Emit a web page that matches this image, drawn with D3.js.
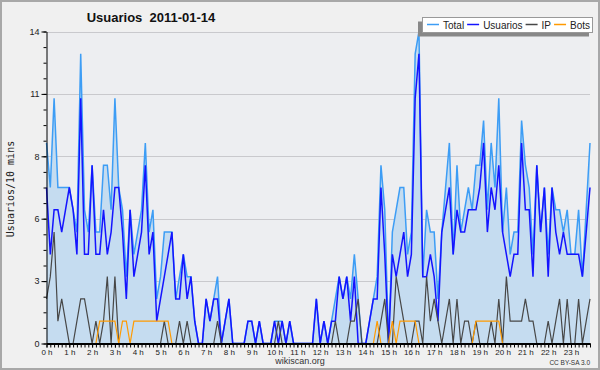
<!DOCTYPE html>
<html>
<head>
<meta charset="utf-8">
<script src="https://cdn.jsdelivr.net/npm/d3@7"></script>
<style>
  body { margin: 0; background: #f0f0f0; }
  svg { display: block; font-family: "Liberation Sans", Arial, sans-serif; }
</style>
</head>
<body>
<div id="chart"></div>
<script>
// 10 minute slots, 0 h .. 23 h 50
const hourLabels = ["0 h","1 h","2 h","3 h","4 h","5 h","6 h","7 h","8 h","9 h","10 h","11 h",
  "12 h","13 h","14 h","15 h","16 h","17 h","18 h","19 h","20 h","21 h","22 h","23 h"];

const total = [
  9,7,11,7,7,7,7,6,5,13, 6,5,8,5,5,8,8,6,11,7,
  6,3,6,4,5,6,9,5,6,2, 3,5,5,5,2,3,4,3,3,1,
  0,0,2,1,2,3,0,1,2,0, 0,0,0,1,1,0,1,0,0,0,
  1,1,1,0,1,0,0,0,0,0, 0,2,0,1,0,1,2,3,2,3,
  2,4,2,0,0,1,2,3,8,6, 0,5,6,7,7,4,5,13,14,3,
  6,5,5,2,5,7,9,4,8,5, 6,7,6,8,8,10,6,9,7,11,
  5,7,4,5,5,10,8,7,4,8, 5,7,4,7,6,6,5,6,4,4,
  6,3,6,9];

const usuarios = [
  7,4,6,6,5,6,7,6,4,11, 4,4,8,4,4,6,4,5,7,7,
  5,2,6,3,4,5,8,4,5,1, 2,3,4,5,2,2,4,2,3,1,
  0,0,2,1,2,2,0,1,2,0, 0,0,0,1,1,0,1,0,0,0,
  1,0,1,0,1,0,0,0,0,0, 0,2,0,1,0,1,1,3,2,3,
  1,3,0,0,0,1,2,2,7,4, 0,4,3,4,5,3,4,11,13,3,
  3,4,3,1,5,6,7,4,6,5, 5,6,6,6,7,9,5,7,6,8,
  5,4,3,4,4,9,6,6,3,8, 5,7,3,7,5,4,5,4,4,4,
  4,3,5,7];

const ip = [
  2,3,5,1,2,1,0,0,1,2, 2,1,0,1,0,1,3,0,3,0,
  0,0,0,0,0,0,0,0,0,0, 0,1,0,0,0,1,0,1,0,0,
  0,0,0,0,0,1,0,0,0,0, 0,0,0,0,0,0,0,0,0,0,
  0,1,0,0,0,0,0,0,0,0, 0,0,0,0,0,0,1,0,0,0,
  1,1,2,0,0,0,0,0,1,2, 0,0,3,2,1,0,0,1,1,0,
  3,1,2,1,0,1,2,0,2,0, 1,1,0,1,0,0,0,1,0,2,
  0,3,1,1,1,1,2,1,1,0, 0,0,1,0,1,2,0,2,0,0,
  2,0,1,2];

const bots = [
  0,0,0,0,0,0,0,0,0,0, 0,0,0,0,1,1,1,1,1,0,
  1,1,0,1,1,1,1,1,1,1, 1,1,1,0,0,0,0,0,0,0,
  0,0,0,0,0,0,0,0,0,0, 0,0,0,0,0,0,0,0,0,0,
  0,0,0,0,0,0,0,0,0,0, 0,0,0,0,0,0,0,0,0,0,
  0,0,0,0,0,0,0,1,0,0, 0,1,0,1,1,1,1,1,0,0,
  0,0,0,0,0,0,0,0,0,0, 0,0,0,1,1,1,1,1,1,1,
  0,0,0,0,0,0,0,0,0,0, 0,0,0,0,0,0,0,0,0,0,
  0,0,0,0];

const yTickValues = [0, 2.8, 5.6, 8.4, 11.2, 14];
const yTickLabels = ["0", "3", "6", "8", "11", "14"];

const seriesNames = ["Total", "Usuarios", "IP", "Bots"];
const seriesColors = ["#3d9df5", "#1414ff", "#474747", "#ff9a00"];

const width = 600, height = 370;
const plotLeft = 46.5, plotRight = 590, plotTop = 31.5, plotBottom = 343.5;

const svg = d3.select("#chart").append("svg")
  .attr("width", width)
  .attr("height", height);

// background + frame
svg.append("rect")
  .attr("x", 1).attr("y", 1)
  .attr("width", width - 2).attr("height", height - 2)
  .attr("fill", "#f0f0f0")
  .attr("stroke", "#a8a8a8")
  .attr("stroke-width", 2);

svg.append("rect")
  .attr("x", plotLeft).attr("y", plotTop)
  .attr("width", plotRight - plotLeft).attr("height", plotBottom - plotTop)
  .attr("fill", "#edeef1");

const slots = d3.range(total.length);
const x = d3.scaleLinear().domain([0, total.length - 1]).range([plotLeft, plotRight]);
const y = d3.scaleLinear().domain([0, 14]).range([plotBottom, plotTop]);

// grid
svg.append("g")
  .selectAll("line")
  .data(yTickValues.slice(1))
  .enter()
  .append("line")
  .attr("x1", plotLeft).attr("x2", plotRight)
  .attr("y1", d => Math.round(y(d)) + 0.5)
  .attr("y2", d => Math.round(y(d)) + 0.5)
  .attr("stroke", "#c9c9cd")
  .attr("stroke-width", 1);

// area under total
svg.append("path")
  .datum(slots)
  .attr("d", d3.area().x(i => x(i)).y0(y(0)).y1(i => y(total[i])))
  .attr("fill", "#c5dcf0");

const line = arr => d3.line().x(i => x(i)).y(i => y(arr[i]));
const allSeries = [total, usuarios, ip, bots];
const widths = [1.5, 1.5, 1.2, 1.2];

allSeries.forEach((arr, k) => {
  svg.append("path")
    .datum(slots)
    .attr("d", line(arr))
    .attr("fill", "none")
    .attr("stroke", seriesColors[k])
    .attr("stroke-width", widths[k])
    .attr("stroke-linejoin", "miter");
});

// y axis
const yMinor = svg.append("g")
  .attr("transform", `translate(${plotLeft},0)`)
  .call(d3.axisLeft(y).tickValues(d3.range(0, 14.001, 0.7)).tickSize(3).tickFormat(""));
yMinor.select(".domain").remove();

const yAxis = svg.append("g")
  .attr("transform", `translate(${plotLeft},0)`)
  .call(d3.axisLeft(y).tickValues(yTickValues)
    .tickFormat((d, i) => yTickLabels[i])
    .tickSize(5).tickSizeOuter(0).tickPadding(2));
yAxis.selectAll("text")
  .style("font-size", "9px")
  .style("font-family", "'Liberation Sans', Arial, sans-serif")
  .attr("fill", "#222");

// x axis
const xMinor = svg.append("g")
  .attr("transform", `translate(0,${plotBottom})`)
  .call(d3.axisBottom(x).tickValues(slots).tickSize(4).tickFormat(""));
xMinor.select(".domain").remove();

const xAxis = svg.append("g")
  .attr("transform", `translate(0,${plotBottom})`)
  .call(d3.axisBottom(x).tickValues(d3.range(0, total.length, 6))
    .tickFormat(i => hourLabels[i / 6])
    .tickSize(4).tickSizeOuter(0).tickPadding(1.5));
xAxis.select(".domain").attr("stroke-width", 2);
xAxis.selectAll("text")
  .style("font-size", "8px")
  .style("font-family", "'Liberation Sans Narrow', 'Liberation Sans', Arial, sans-serif")
  .attr("fill", "#222");

// title
svg.append("text")
  .attr("x", 151).attr("y", 21.5)
  .attr("text-anchor", "middle")
  .style("font-size", "13px")
  .style("font-weight", "bold")
  .attr("fill", "#111")
  .attr("xml:space", "preserve")
  .text("Usuarios  2011-01-14");

// y label
svg.append("text")
  .attr("transform", "translate(13.5,189) rotate(-90)")
  .attr("text-anchor", "middle")
  .style("font-family", "'DejaVu Sans Mono', monospace")
  .style("font-size", "10px")
  .attr("fill", "#222")
  .text("Usuarios/10 mins");

// footer
svg.append("text")
  .attr("x", 300).attr("y", 364)
  .attr("text-anchor", "middle")
  .style("font-size", "9px")
  .attr("fill", "#333")
  .text("wikiscan.org");

svg.append("text")
  .attr("x", 590).attr("y", 365)
  .attr("text-anchor", "end")
  .style("font-size", "6.5px")
  .attr("fill", "#333")
  .text("CC BY-SA 3.0");

// legend
const lg = svg.append("g");
lg.append("rect")
  .attr("x", 418).attr("y", 21.5)
  .attr("width", 171).attr("height", 15)
  .attr("fill", "#888");
lg.append("rect")
  .attr("x", 422.5).attr("y", 17.5)
  .attr("width", 170).attr("height", 15)
  .attr("fill", "#fff")
  .attr("stroke", "#999")
  .attr("stroke-width", 1);

let lx = 427;
seriesNames.forEach((name, k) => {
  lg.append("line")
    .attr("x1", lx).attr("x2", lx + 12)
    .attr("y1", 24.5).attr("y2", 24.5)
    .attr("stroke", seriesColors[k])
    .attr("stroke-width", 1.5);
  const t = lg.append("text")
    .attr("x", lx + 16).attr("y", 28.5)
    .style("font-size", "10px")
    .attr("fill", "#222")
    .text(name);
  lx += 16 + t.node().getComputedTextLength() + 3;
});
</script>
</body>
</html>
